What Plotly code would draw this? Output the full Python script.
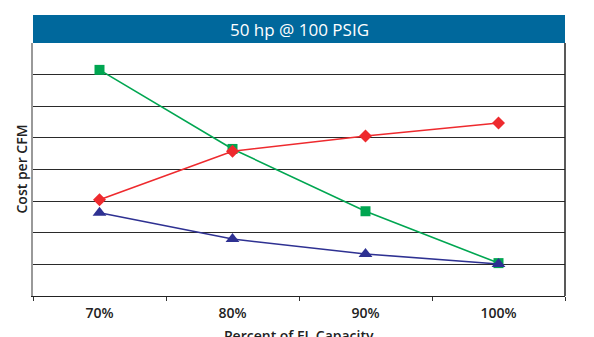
import plotly.graph_objects as go

categories = ["70%", "80%", "90%", "100%"]
green_vals = [7.15, 4.65, 2.68, 1.04]
red_vals = [3.04, 4.58, 5.06, 5.47]
blue_vals = [2.63, 1.80, 1.33, 1.01]

title_text = "50 hp @ 100 PSIG"
x_title = "Percent of FL Capacity"
y_title = "Cost per CFM"

FONT = "Open Sans"

fig = go.Figure()
fig.add_trace(go.Scatter(x=categories, y=green_vals, mode="lines+markers",
                         line=dict(color="#00A651", width=1.6),
                         marker=dict(symbol="square", size=10, color="#00A651")))
fig.add_trace(go.Scatter(x=categories, y=red_vals, mode="lines+markers",
                         line=dict(color="#EE2A2E", width=1.6),
                         marker=dict(symbol="diamond", size=10, color="#EE2A2E")))
fig.add_trace(go.Scatter(x=categories, y=blue_vals, mode="lines+markers",
                         line=dict(color="#2E3192", width=1.6),
                         marker=dict(symbol="triangle-up", size=12, color="#2E3192")))

# page body has an 8px margin, so the figure is sized/offset to compensate
W, H = 586, 329
ml, mr, mt, mb = 25, 29, 35, 41
plot_h = H - mt - mb
plot_w = W - ml - mr
bar_h = 28

fig.update_layout(
    width=W, height=H,
    margin=dict(l=ml, r=mr, t=mt, b=mb),
    paper_bgcolor="white", plot_bgcolor="white",
    showlegend=False,
    font=dict(family=FONT, color="#222"),
    xaxis=dict(
        type="category", range=[-0.5, 3.5],
        tickson="boundaries", ticks="outside", ticklen=4, tickcolor="#333",
        ticklabelstandoff=4,
        showgrid=False, showline=True, linecolor="#222", linewidth=1,
        tickfont=dict(family=FONT, size=14, color="#222", weight=600),
        zeroline=False, fixedrange=True,
    ),
    yaxis=dict(
        range=[0, 8], dtick=1, showticklabels=False, ticks="",
        showgrid=True, gridcolor="#2a2a2a", gridwidth=1,
        showline=True, linecolor="#999", linewidth=2,
        zeroline=False, fixedrange=True,
    ),
    shapes=[
        dict(type="rect", xref="paper", yref="paper", x0=0, x1=1,
             y0=1, y1=1 + bar_h / plot_h, fillcolor="#00689C", line=dict(width=0), layer="above"),
        dict(type="line", xref="paper", yref="paper", x0=1, x1=1, y0=0, y1=1,
             line=dict(color="#222", width=1.5)),
    ],
    annotations=[
        dict(text=title_text, xref="paper", yref="paper", x=0.5, y=1 + bar_h / 2 / plot_h,
             xanchor="center", yanchor="middle", showarrow=False,
             font=dict(family=FONT, size=17, color="white")),
        dict(text=y_title, xref="paper", yref="paper", x=-12 / plot_w, y=0.5,
             xanchor="center", yanchor="middle", textangle=-90, showarrow=False,
             font=dict(family=FONT, size=14, color="#222", weight=600)),
        dict(text=x_title, xref="paper", yref="paper", x=0.5, y=-28 / plot_h,
             xanchor="center", yanchor="top", showarrow=False,
             font=dict(family=FONT, size=14, color="#222", weight=600)),
    ],
)

fig.write_html("out.html")
